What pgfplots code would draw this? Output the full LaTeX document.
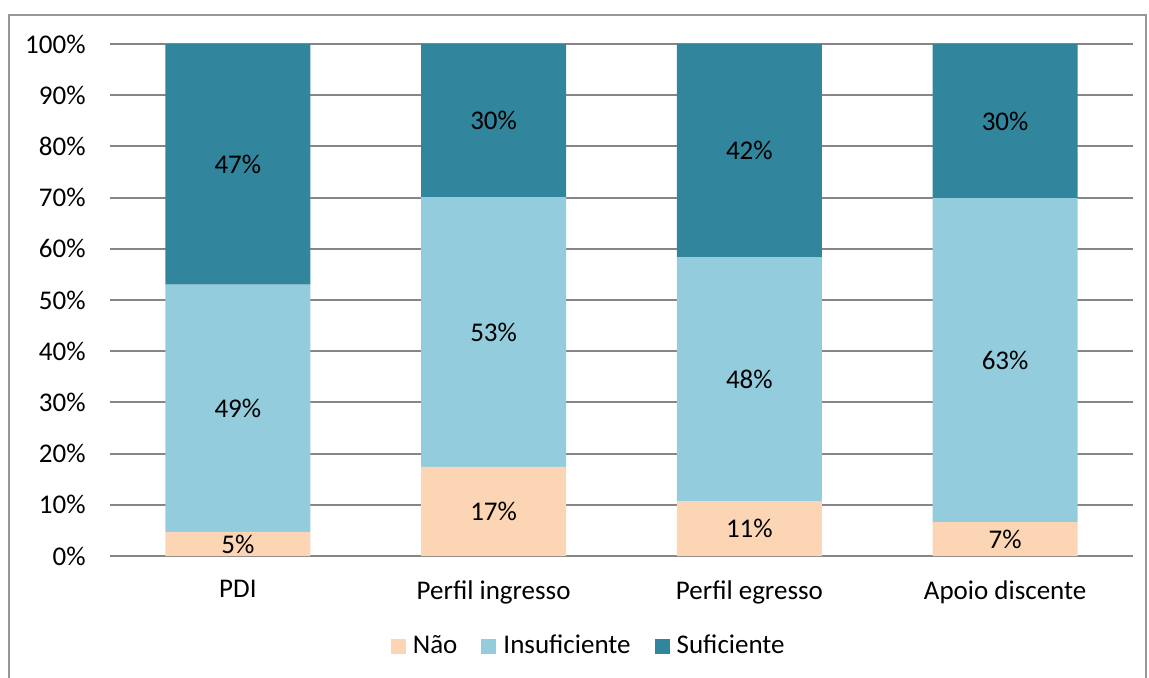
\documentclass[border=0pt]{standalone}
\usepackage{pgfplots}
\pgfplotsset{compat=1.18}
\usepackage{fontspec}
\setmainfont{Carlito}
\definecolor{nao}{RGB}{252,213,181}
\definecolor{insuf}{RGB}{147,205,221}
\definecolor{suf}{RGB}{49,133,156}
\definecolor{gridgray}{RGB}{134,134,134}
\definecolor{framegray}{RGB}{150,150,150}
\newcommand{\lblfont}{\fontsize{13.5}{15}\selectfont}
\begin{document}
\lblfont
\begin{tikzpicture}
\path[use as bounding box] (0,0) rectangle (574.5pt,338.5pt);
\begin{scope}
\clip (0,0) rectangle (574.5pt,338.5pt);
\draw[framegray, line width=0.75pt] (4.5pt,-5pt) rectangle (573pt,331pt);
\end{scope}
\begin{axis}[
  at={(55pt,60.5pt)}, anchor=south west,
  scale only axis, width=511.5pt, height=256pt,
  ybar stacked, bar width=72.5pt,
  xmin=-0.5, xmax=3.5, ymin=0, ymax=100,
  xtick={0,1,2,3},
  xticklabels={PDI, Perfil ingresso, Perfil egresso, Apoio discente},
  ytick={0,10,...,100},
  yticklabel={\pgfmathparse{int(\tick)}\pgfmathresult\%},
  /pgf/number format/assume math mode=true,
  ymajorgrids, grid style={gridgray, line width=1pt},
  axis line style={draw=none},
  major tick length=0pt,
  tick style={draw=none},
  tick label style={font=\lblfont, text=black},
  yticklabel style={inner sep=0pt, xshift=-12pt},
  xticklabel style={inner sep=0pt, anchor=north, yshift=-12pt},
  point meta=explicit,
  nodes near coords={\pgfmathprintnumber{\pgfplotspointmeta}\%},
  every node near coord/.append style={anchor=center, font=\lblfont, text=black},
  legend columns=3,
  legend style={at={(0.469,-0.176)}, anchor=center, draw=none, fill=none,
    font=\lblfont,
    /tikz/every even column/.append style={column sep=10pt}},
  legend image code/.code={\fill[#1] (0pt,-3.75pt) rectangle (7.5pt,3.75pt); \path (9pt,0pt);},
]
\addplot[fill=nao, draw=none] coordinates {(0,4.7) [5] (1,17.4) [17] (2,10.7) [11] (3,6.6) [7]};
\addplot[fill=insuf, draw=none] coordinates {(0,48.3) [49] (1,52.7) [53] (2,47.7) [48] (3,63.3) [63]};
\addplot[fill=suf, draw=none] coordinates {(0,47.0) [47] (1,29.9) [30] (2,41.6) [42] (3,30.1) [30]};
\legend{Não, Insuficiente, Suficiente}
\end{axis}
\end{tikzpicture}
\end{document}
